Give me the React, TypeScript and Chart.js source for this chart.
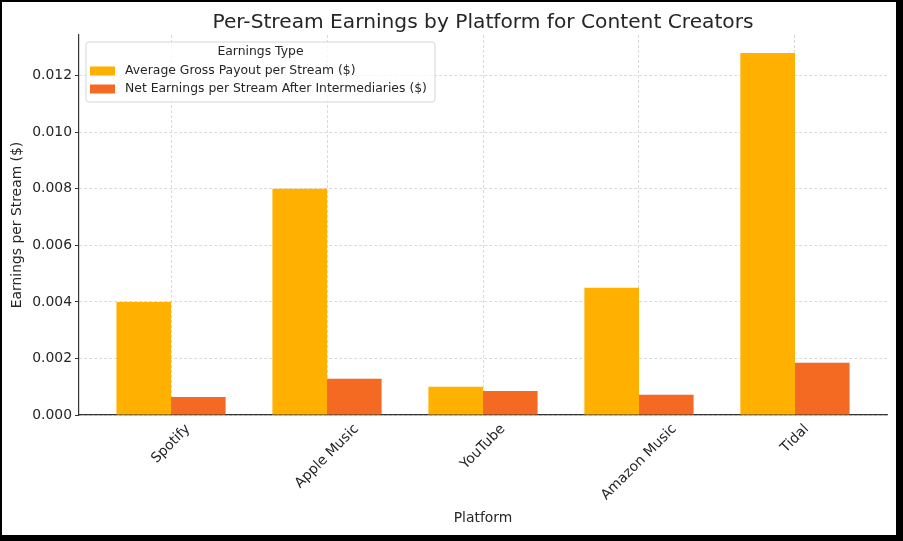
import React, { useEffect, useRef } from "react";
import { Chart, registerables } from "chart.js";

Chart.register(...registerables);

const chartTitle = "Per-Stream Earnings by Platform for Content Creators";
const xAxisTitle = "Platform";
const yAxisTitle = "Earnings per Stream ($)";
const legendTitle = "Earnings Type";

const categories = ["Spotify", "Apple Music", "YouTube", "Amazon Music", "Tidal"];
const seriesNames = [
  "Average Gross Payout per Stream ($)",
  "Net Earnings per Stream After Intermediaries ($)",
];
const grossPayout = [0.004, 0.008, 0.001, 0.0045, 0.0128];
const netEarnings = [0.00064, 0.00128, 0.00085, 0.00072, 0.00185];
const seriesColors = ["#FFB000", "#F46A23"];

const FONT = '"DejaVu Sans", "Liberation Sans", sans-serif';
const TEXT = "#262626";
const AXIS = "#333333";
const GRID = "#d0d0d0";

const titlePlugin = {
  id: "titlePlugin",
  afterDraw(chart: any) {
    const { ctx, chartArea } = chart;
    ctx.save();
    ctx.font = `20.2px ${FONT}`;
    ctx.fillStyle = TEXT;
    ctx.textAlign = "center";
    ctx.textBaseline = "alphabetic";
    ctx.fillText(chartTitle, (chartArea.left + chartArea.right) / 2, 26);
    ctx.restore();
  },
};

const xLabelPlugin = {
  id: "xLabelPlugin",
  afterDraw(chart: any) {
    const { ctx, chartArea } = chart;
    const x = chart.scales.x;
    const size = 13.9;
    ctx.save();
    ctx.font = `${size}px ${FONT}`;
    ctx.fillStyle = TEXT;
    categories.forEach((c, i) => {
      const px = x.getPixelForValue(i);
      const w = ctx.measureText(c).width;
      const s = (w + size) * Math.SQRT1_2;
      const cy = chartArea.bottom + 7 + s / 2;
      ctx.save();
      ctx.translate(px, cy);
      ctx.rotate(-Math.PI / 4);
      ctx.textAlign = "center";
      ctx.textBaseline = "middle";
      ctx.fillText(c, 0, 0);
      ctx.restore();
    });
    ctx.restore();
  },
};

const legendPlugin = {
  id: "legendPlugin",
  afterDraw(chart: any) {
    const { ctx, chartArea } = chart;
    const x0 = chartArea.left + 7;
    const y0 = chartArea.top + 7;
    const w = 349;
    const h = 60;
    const r = 3;
    ctx.save();
    ctx.beginPath();
    ctx.moveTo(x0 + r, y0);
    ctx.lineTo(x0 + w - r, y0);
    ctx.arcTo(x0 + w, y0, x0 + w, y0 + r, r);
    ctx.lineTo(x0 + w, y0 + h - r);
    ctx.arcTo(x0 + w, y0 + h, x0 + w - r, y0 + h, r);
    ctx.lineTo(x0 + r, y0 + h);
    ctx.arcTo(x0, y0 + h, x0, y0 + h - r, r);
    ctx.lineTo(x0, y0 + r);
    ctx.arcTo(x0, y0, x0 + r, y0, r);
    ctx.closePath();
    ctx.fillStyle = "rgba(255,255,255,0.8)";
    ctx.fill();
    ctx.strokeStyle = "#d6d6d6";
    ctx.lineWidth = 1;
    ctx.stroke();

    ctx.font = `12.4px ${FONT}`;
    ctx.fillStyle = TEXT;
    ctx.textBaseline = "middle";
    ctx.textAlign = "center";
    ctx.fillText(legendTitle, x0 + w / 2, y0 + 10);
    ctx.textAlign = "left";
    chart.data.datasets.forEach((ds: any, i: number) => {
      const cy = y0 + 29 + i * 18;
      ctx.fillStyle = ds.backgroundColor;
      ctx.fillRect(x0 + 4, cy - 4.5, 25, 9);
      ctx.fillStyle = TEXT;
      ctx.fillText(ds.label, x0 + 39, cy);
    });
    ctx.restore();
  },
};

export default function App() {
  const ref = useRef<HTMLCanvasElement | null>(null);

  useEffect(() => {
    if (!ref.current) return;
    const chart = new Chart(ref.current, {
      type: "bar",
      data: {
        datasets: [
          {
            label: seriesNames[0],
            data: categories.map((_, i) => ({ x: i, y: grossPayout[i] })),
            backgroundColor: seriesColors[0],
            borderWidth: 0,
          },
          {
            label: seriesNames[1],
            data: categories.map((_, i) => ({ x: i, y: netEarnings[i] })),
            backgroundColor: seriesColors[1],
            borderWidth: 0,
          },
        ],
      },
      options: {
        animation: false,
        responsive: false,
        maintainAspectRatio: false,
        devicePixelRatio: 1,
        layout: { padding: { left: 0, right: 9, top: 0, bottom: 0 } },
        datasets: {
          bar: { categoryPercentage: 0.7, barPercentage: 1.0 },
        },
        plugins: {
          legend: { display: false },
          tooltip: { enabled: false },
          title: {
            display: true,
            text: chartTitle,
            color: "rgba(0,0,0,0)",
            font: { family: FONT, size: 20, weight: "normal" },
            padding: { top: 6, bottom: 3 },
          },
        },
        scales: {
          x: {
            type: "linear",
            min: -0.59,
            max: 4.59,
            offset: false,
            afterBuildTicks: (scale: any) => {
              scale.ticks = categories.map((_, i) => ({ value: i }));
            },
            afterFit: (scale: any) => {
              scale.height = 120;
            },
            ticks: { display: false },
            grid: {
              offset: false,
              display: true,
              color: GRID,
              lineWidth: 0.8,
              drawTicks: false,
            },
            border: { display: true, color: AXIS, width: 1.2, dash: [3, 2] },
            title: {
              display: true,
              text: xAxisTitle,
              color: TEXT,
              font: { family: FONT, size: 13.9 },
              padding: { top: 0, bottom: 8.5 },
            },
          },
          y: {
            type: "linear",
            min: 0,
            max: 0.01344,
            afterFit: (scale: any) => {
              scale.width = 77;
            },
            ticks: {
              stepSize: 0.002,
              includeBounds: false,
              color: TEXT,
              padding: 3,
              font: { family: FONT, size: 13.9 },
              callback: (v: any) => Number(v).toFixed(3),
            },
            grid: {
              color: GRID,
              lineWidth: 0.8,
              drawTicks: true,
              tickLength: 4,
              tickColor: AXIS,
              tickWidth: 1,
              tickBorderDash: [],
            },
            border: { display: true, color: AXIS, width: 1.2, dash: [3, 2] },
            title: {
              display: true,
              text: yAxisTitle,
              color: TEXT,
              font: { family: FONT, size: 13.9 },
              padding: { top: 6.6, bottom: 0 },
            },
          },
        },
      },
      plugins: [titlePlugin, xLabelPlugin, legendPlugin],
    } as any);
    return () => chart.destroy();
  }, []);

  return (
    <div
      style={{
        position: "fixed",
        left: 0,
        top: 0,
        width: 903,
        height: 541,
        background: "#000",
      }}
    >
      <canvas
        ref={ref}
        width={894}
        height={533}
        style={{
          position: "absolute",
          left: 2,
          top: 2,
          width: 894,
          height: 533,
          background: "#fff",
        }}
      />
    </div>
  );
}
